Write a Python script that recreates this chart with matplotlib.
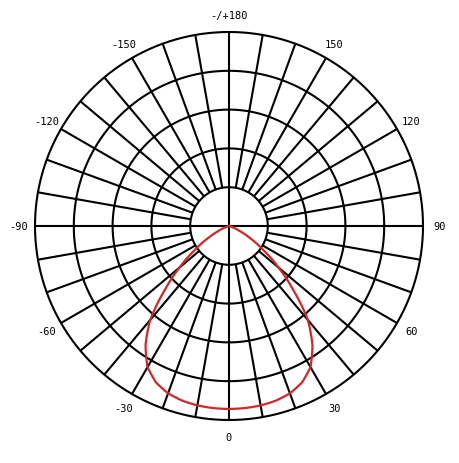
import numpy as np
import matplotlib
matplotlib.use("Agg")
import matplotlib.pyplot as plt

# Data: luminous intensity profile (normalised) vs angle in degrees
angles_deg = [-90, -85, -80, -75, -70, -65, -60, -55, -50, -45, -40, -35, -30, -25, -20, -15, -10, -5,
              0, 5, 10, 15, 20, 25, 30, 35, 40, 45, 50, 55, 60, 65, 70, 75, 80, 85, 90]
intensity = [0.0, 0.0, 0.0, 0.0, 0.02, 0.058, 0.125, 0.215, 0.333, 0.47, 0.632, 0.75, 0.84, 0.89, 0.918, 0.932, 0.939, 0.942,
             0.943, 0.942, 0.939, 0.932, 0.918, 0.89, 0.84, 0.75, 0.632, 0.47, 0.333, 0.215, 0.125, 0.058, 0.02, 0.0, 0.0, 0.0, 0.0]

tick_angles = [0, 30, 60, 90, 120, 150, 180, -150, -120, -90, -60, -30]
tick_labels = ["0", "30", "60", "90", "120", "150", "-/+180", "-150", "-120", "-90", "-60", "-30"]
ring_radii = [0.2, 0.4, 0.6, 0.8, 1.0]
spoke_step = 10

fig = plt.figure(figsize=(4.6, 4.64), dpi=100)
ax = fig.add_axes([35/460, 43/464, 388/460, 388/464], projection="polar")
ax.set_theta_zero_location("S")
ax.set_theta_direction(1)
ax.grid(False)
ax.set_yticks([])

lw = 1.5
# rings
th = np.linspace(0, 2*np.pi, 721)
for r in ring_radii:
    ax.plot(th, np.full_like(th, r), color="black", lw=lw, zorder=1, clip_on=False)
# spokes
for a in range(0, 360, spoke_step):
    t = np.deg2rad(a)
    r0 = 0.0 if a % 90 == 0 else ring_radii[0]
    ax.plot([t, t], [r0, 1.0], color="black", lw=lw, zorder=1, solid_capstyle="butt", clip_on=False)

line, = ax.plot(np.deg2rad(angles_deg), intensity, color="#d62728", lw=1.6, zorder=3)
line.get_path()._interpolation_steps = 40

ax.spines["polar"].set_visible(False)

# tick labels
ax.set_xticks(np.deg2rad(np.mod(tick_angles, 360)))
ax.set_xticklabels(tick_labels, fontsize=7.5, family="DejaVu Sans Mono")
ax.tick_params(axis="x", pad=5, length=0)

ax.set_xlim(0, 2*np.pi)
ax.set_ylim(0, 1.0)

fig.savefig("out.png", dpi=100, facecolor="white")
